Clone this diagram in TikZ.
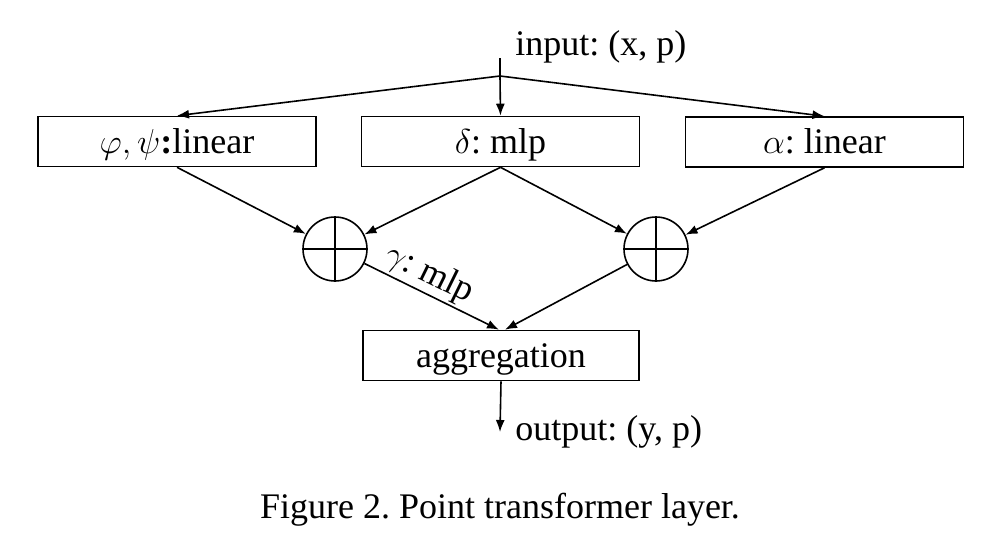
\documentclass[tikz,border=0pt]{standalone}
\usepackage{fontspec}
\setmainfont{Liberation Serif}
\frenchspacing
\usetikzlibrary{arrows.meta,calc}

\begin{document}
\begin{tikzpicture}[
    x=0.5pt, y=-0.5pt,
    font=\fontsize{18}{22}\selectfont,
    line width=0.8pt,
    flow/.style={-{Latex[length=6pt, width=4.5pt]}},
    opbox/.style={draw, minimum width=139pt, minimum height=25pt, inner sep=0pt,
      text height=15pt, text depth=3pt},
    sumnode/.style={draw, circle, minimum size=32pt, inner sep=0pt,
      path picture={
        \draw (path picture bounding box.north) -- (path picture bounding box.south);
        \draw (path picture bounding box.west) -- (path picture bounding box.east);
      }}
]
  \useasboundingbox (0,0) rectangle (993,557);

  % -------------------------------------------------------------
  % ENTRADA
  % -------------------------------------------------------------
  \node[anchor=west] (in_txt) at (508, 47) {input: (x, p)};
  \coordinate (in_top) at (500, 58);
  \coordinate (split) at (500, 76);

  % -------------------------------------------------------------
  % CAMADAS
  % -------------------------------------------------------------
  \node[opbox] (phi_box) at (177, 141.5) {$\varphi, \psi$\textbf{:}linear};
  \node[opbox] (delta_box) at (500.5, 141.5) {$\delta$: mlp};
  \node[opbox] (alpha_box) at (824.5, 142) {$\alpha$: linear};

  \node[sumnode] (sum_l) at (335, 249) {};
  \node[sumnode] (sum_r) at (656, 249) {};

  \node[opbox, minimum width=138pt] (agg_box) at (501, 355.5) {aggregation};

  % -------------------------------------------------------------
  % SAIDA
  % -------------------------------------------------------------
  \coordinate (out_end) at (500, 432);
  \node[anchor=west] (out_txt) at (508, 432) {output: (y, p)};

  % Conexoes
  \draw (in_top) -- (split);
  \draw[flow] (split) -- (phi_box.north);
  \draw[flow] (split) -- (delta_box.north);
  \draw[flow] (split) -- (alpha_box.north);

  \draw[flow] (phi_box.south) -- (sum_l);
  \draw[flow] (delta_box.south) -- (sum_l);
  \draw[flow] (delta_box.south) -- (sum_r);
  \draw[flow] (alpha_box.south) -- (sum_r);

  \draw[flow] (sum_l) -- node[pos=0.42, sloped, above, inner sep=1pt] {$\gamma$: mlp} ($(agg_box.north)+(-2,0)$);
  \draw[flow] (sum_r) -- ($(agg_box.north)+(4,0)$);

  \draw[flow] (agg_box.south) -- (out_end);

  % Legenda
  \node (caption) at (500, 510) {Figure 2. Point transformer layer.};

\end{tikzpicture}
\end{document}
